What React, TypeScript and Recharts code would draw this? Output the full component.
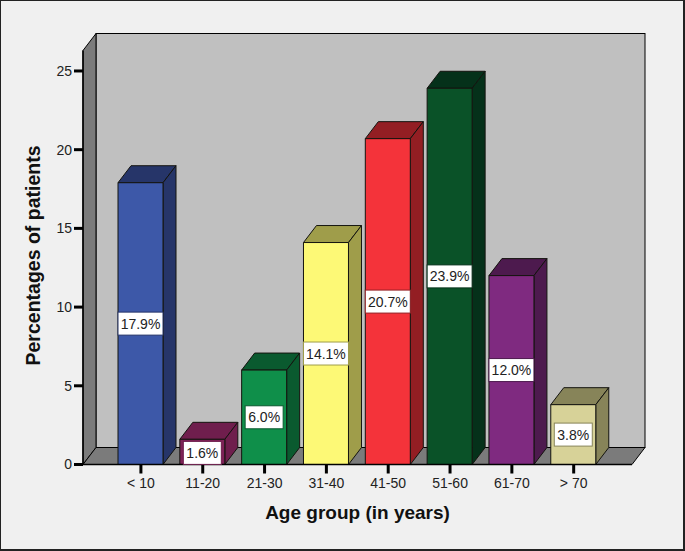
import React from "react";
import {
  BarChart,
  Bar,
  XAxis,
  YAxis,
  LabelList,
  Label,
  usePlotArea,
} from "recharts";

const ageGroups = ["< 10", "11-20", "21-30", "31-40", "41-50", "51-60", "61-70", "> 70"];
const percentages = [17.9, 1.6, 6.0, 14.1, 20.7, 23.9, 12.0, 3.8];
const yTicks = [0, 5, 10, 15, 20, 25];

const frontColors = ["#3d58a8", "#7e2257", "#0f8f4a", "#fdf976", "#f4333a", "#0a5228", "#7f2a80", "#d7d298"];
const sideColors = ["#263569", "#6f1e4d", "#0a5a2f", "#9f9d4a", "#931e23", "#05311a", "#4d1a4e", "#878459"];

const data = ageGroups.map((group, i) => ({ group, value: percentages[i], i }));

const DEPTH_X = 13;
const DEPTH_Y = 17;
const FONT = "'Liberation Sans', Arial, sans-serif";
const EDGE = "#14140f";

// back wall, left wall and floor of the 3D box
function Walls() {
  const plot = usePlotArea();
  if (!plot) return null;
  const left = plot.x;
  const right = plot.x + plot.width;
  const top = plot.y;
  const bottom = plot.y + plot.height;
  return (
    <g stroke="#000" strokeWidth={1}>
      <rect x={left + DEPTH_X} y={top - DEPTH_Y} width={plot.width} height={plot.height} fill="#c0c0c0" />
      <polygon
        points={`${left},${top} ${left + DEPTH_X},${top - DEPTH_Y} ${left + DEPTH_X},${bottom - DEPTH_Y} ${left},${bottom}`}
        fill="#7b7b7b"
      />
      <polygon
        points={`${left},${bottom} ${left + DEPTH_X},${bottom - DEPTH_Y} ${right + DEPTH_X},${bottom - DEPTH_Y} ${right},${bottom}`}
        fill="#7b7b7b"
      />
    </g>
  );
}

function Bar3D(props: any) {
  const { x, y, width, height, payload } = props;
  const front = frontColors[payload.i];
  const side = sideColors[payload.i];
  return (
    <g stroke={EDGE} strokeWidth={1} strokeLinejoin="round">
      <polygon
        points={`${x},${y} ${x + DEPTH_X},${y - DEPTH_Y} ${x + width + DEPTH_X},${y - DEPTH_Y} ${x + width},${y}`}
        fill={side}
      />
      <polygon
        points={`${x + width},${y} ${x + width + DEPTH_X},${y - DEPTH_Y} ${x + width + DEPTH_X},${y + height - DEPTH_Y} ${x + width},${y + height}`}
        fill={side}
      />
      <rect x={x} y={y} width={width} height={height} fill={front} />
    </g>
  );
}

function ValueBox(props: any) {
  const { x, y, width, height, value, index } = props;
  const boxW = value >= 10 ? width : 38;
  const boxH = Math.min(23, height - 2);
  const cx = x + width / 2;
  const cy = y + height / 2 + (height < 30 ? 1 : 0);
  return (
    <g>
      <rect
        x={cx - boxW / 2}
        y={cy - boxH / 2}
        width={boxW}
        height={boxH}
        fill="#fff"
        stroke={sideColors[index]}
        strokeWidth={1}
      />
      <text
        x={cx}
        y={cy + 5}
        textAnchor="middle"
        fontSize={14}
        fontFamily={FONT}
        fill="#222"
      >
        {`${value.toFixed(1)}%`}
      </text>
    </g>
  );
}

export default function App() {
  return (
    <div
      style={{
        position: "absolute",
        left: 0,
        top: 0,
        width: 685,
        height: 551,
        boxSizing: "border-box",
        background: "#f0f0f0",
        borderTop: "1px solid #222",
        borderLeft: "1px solid #222",
        borderRight: "2px solid #222",
        borderBottom: "2px solid #222",
      }}
    >
      <div style={{ position: "absolute", left: -1, top: -1 }}>
        <BarChart
          width={685}
          height={551}
          data={data}
          barSize={45}
          margin={{ top: 50.5, right: 53, bottom: 0, left: 0 }}
        >
          <Walls />
          <XAxis
            dataKey="group"
            interval={0}
            height={86.5}
            padding={{ left: 27, right: 27.4 }}
            axisLine={{ stroke: "#000", strokeWidth: 1.5 }}
            tickLine={{ stroke: "#000", strokeWidth: 3 }}
            tickSize={9}
            tickMargin={5}
            tick={{ fontSize: 14, fontFamily: FONT, fill: "#222" }}
          >
            <Label
              value="Age group (in years)"
              position="insideBottom"
              offset={32}
              style={{ fontSize: 19, fontWeight: 700, fontFamily: FONT, fill: "#111" }}
            />
          </XAxis>
          <YAxis
            width={83}
            domain={[0, 26.3]}
            ticks={yTicks}
            allowDataOverflow
            axisLine={{ stroke: "#000", strokeWidth: 1.5 }}
            tickLine={{ stroke: "#000", strokeWidth: 3 }}
            tickSize={9}
            tickMargin={2}
            tick={{ fontSize: 14, fontFamily: FONT, fill: "#222" }}
          >
            <Label
              value="Percentages of patients"
              angle={-90}
              position="insideLeft"
              offset={33}
              dy={-2}
              style={{ fontSize: 19.5, fontWeight: 700, fontFamily: FONT, fill: "#111", textAnchor: "middle" }}
            />
          </YAxis>
          <Bar dataKey="value" shape={<Bar3D />} isAnimationActive={false}>
            <LabelList dataKey="value" content={<ValueBox />} />
          </Bar>
        </BarChart>
      </div>
    </div>
  );
}
